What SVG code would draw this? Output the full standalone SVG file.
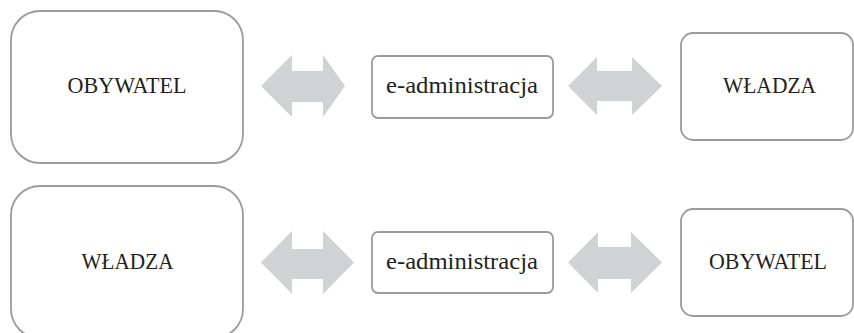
<svg xmlns="http://www.w3.org/2000/svg" width="854" height="333" viewBox="0 0 854 333">
<style>
.box{fill:#fff;stroke:#9b9b9d;stroke-width:1.8}
.arr{fill:#d1d2d4;stroke:none}
</style>
<rect width="854" height="333" fill="#fff"/>
<g id="connectors">
<polygon class="arr" points="261,86 292,55 292,71 323,71 323,55 345,86 323,117 323,102 292,102 292,117"/>
<polygon class="arr" points="568,86 597,57 597,71 632,71 632,57 662,86 632,115 632,101 597,101 597,115"/>
<polygon class="arr" points="261,262.5 292,231 292,249 323,249 323,231 354,262.5 323,294 323,279 292,279 292,294"/>
<polygon class="arr" points="568,262.5 598,232 598,247 631,247 631,232 662,262.5 631,293 631,279 598,279 598,293"/>
</g>
<g font-family="Liberation Serif, Times New Roman, serif" font-size="23" fill="#231f20" text-anchor="middle">
<g id="node-obywatel-top">
<rect class="box" x="11" y="11" width="232" height="152" rx="29"/>
<text x="127" y="93" textLength="119" lengthAdjust="spacingAndGlyphs">OBYWATEL</text>
</g>
<g id="node-eadmin-top">
<rect class="box" x="372" y="56" width="181" height="62" rx="6"/>
<text x="462" y="93" textLength="152" lengthAdjust="spacingAndGlyphs">e-administracja</text>
</g>
<g id="node-wladza-top">
<rect class="box" x="681" y="33" width="172" height="107" rx="12"/>
<text x="769.5" y="93" textLength="93" lengthAdjust="spacingAndGlyphs">WŁADZA</text>
</g>
<g id="node-wladza-bottom">
<rect class="box" x="11" y="186" width="232" height="152" rx="29"/>
<text x="127.5" y="269" textLength="92" lengthAdjust="spacingAndGlyphs">WŁADZA</text>
</g>
<g id="node-eadmin-bottom">
<rect class="box" x="372" y="232" width="181" height="61" rx="6"/>
<text x="462" y="269" textLength="152" lengthAdjust="spacingAndGlyphs">e-administracja</text>
</g>
<g id="node-obywatel-bottom">
<rect class="box" x="681" y="209" width="172" height="107" rx="12"/>
<text x="768" y="269" textLength="118" lengthAdjust="spacingAndGlyphs">OBYWATEL</text>
</g>
</g>
</svg>
